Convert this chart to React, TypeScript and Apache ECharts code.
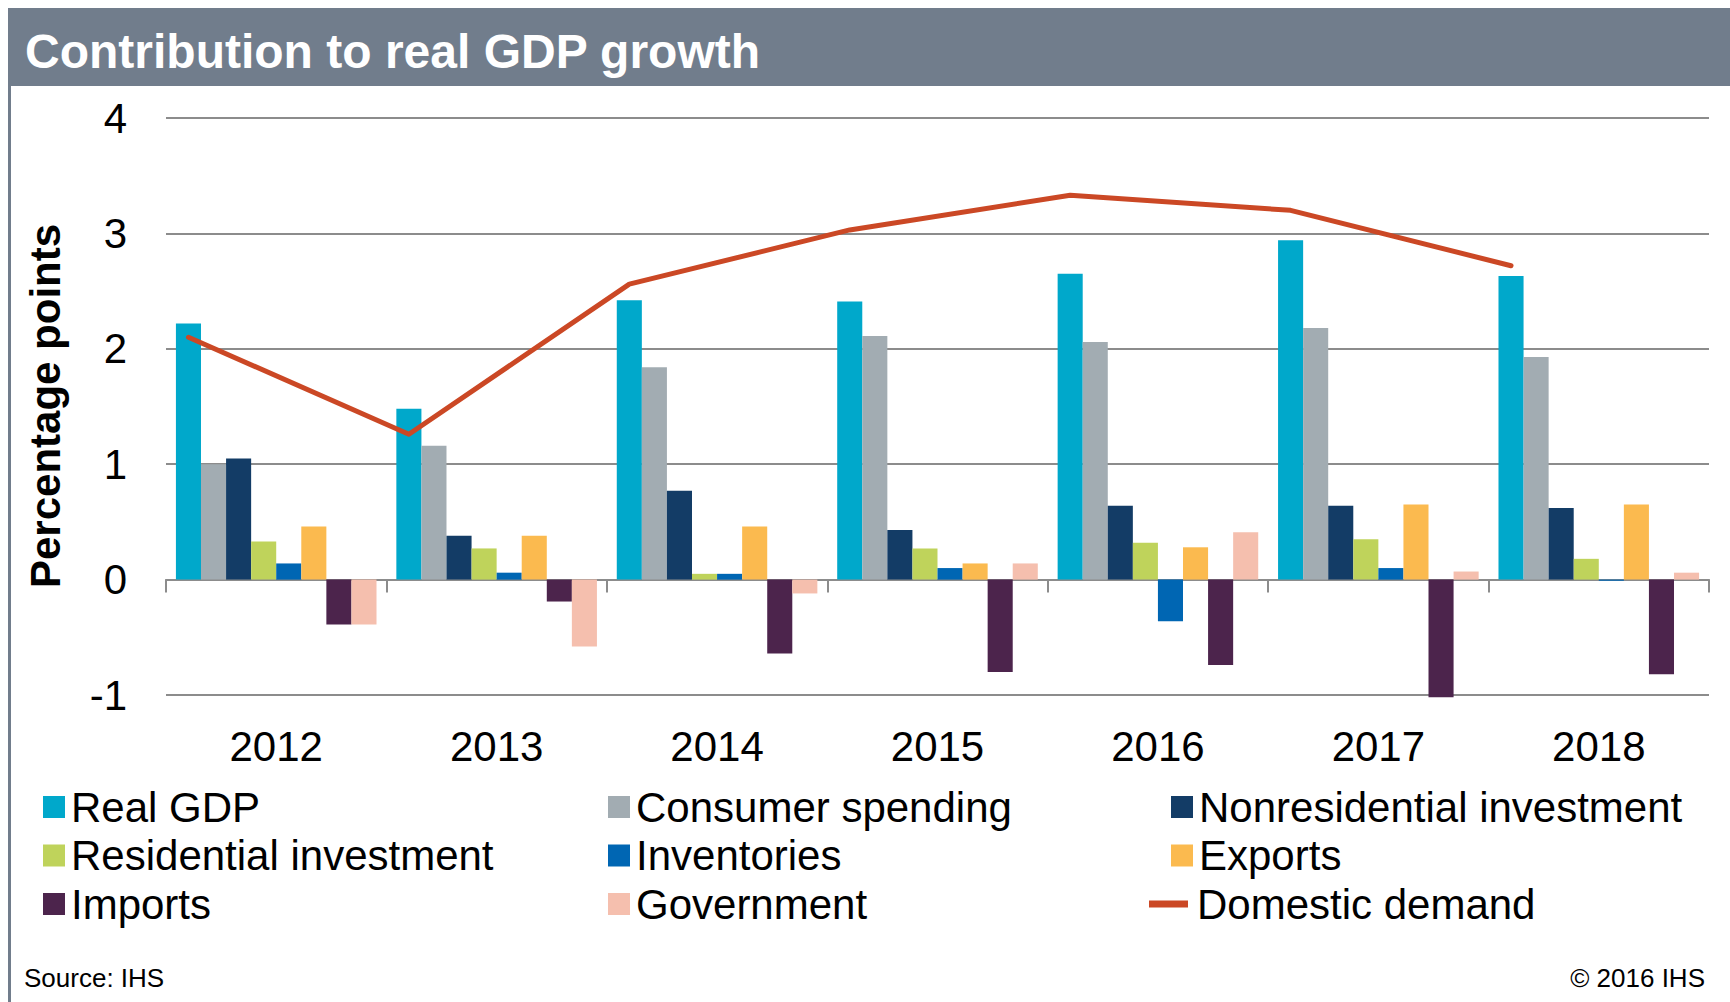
import React, { useEffect, useRef } from "react";
import * as echarts from "echarts";

const years = ["2012", "2013", "2014", "2015", "2016", "2017", "2018"];
const realGdp = [2.22, 1.48, 2.42, 2.41, 2.65, 2.94, 2.63];
const consumerSpending = [1.0, 1.16, 1.84, 2.11, 2.06, 2.18, 1.93];
const nonresInvestment = [1.05, 0.38, 0.77, 0.43, 0.64, 0.64, 0.62];
const resInvestment = [0.33, 0.27, 0.05, 0.27, 0.32, 0.35, 0.18];
const inventories = [0.14, 0.06, 0.05, 0.1, -0.36, 0.1, -0.01];
const exportsV = [0.46, 0.38, 0.46, 0.14, 0.28, 0.65, 0.65];
const importsV = [-0.39, -0.19, -0.64, -0.8, -0.74, -1.02, -0.82];
const government = [-0.39, -0.58, -0.12, 0.14, 0.41, 0.07, 0.06];
const domesticDemand = [2.1, 1.26, 2.56, 3.03, 3.33, 3.2, 2.72];
const yTicks = { min: -1, max: 4, interval: 1 };

const FONT = "Liberation Sans, Arial, sans-serif";

const barSeries = [
  { name: "Real GDP", data: realGdp, color: "#00A8CB" },
  { name: "Consumer spending", data: consumerSpending, color: "#A2ACB2" },
  { name: "Nonresidential investment", data: nonresInvestment, color: "#133C66" },
  { name: "Residential investment", data: resInvestment, color: "#BFD35B" },
  { name: "Inventories", data: inventories, color: "#0066B3" },
  { name: "Exports", data: exportsV, color: "#FBBA4F" },
  { name: "Imports", data: importsV, color: "#4C244C" },
  { name: "Government", data: government, color: "#F5BFAE" },
];
const lineColor = "#CB4825";

const CAT_GAP = 0.09;
// line points sit on the centre of the first bar of each cluster
const lineOffset = CAT_GAP / 2 + (1 - CAT_GAP) / barSeries.length / 2;

export default function App() {
  const ref = useRef<HTMLDivElement>(null);
  useEffect(() => {
    document.body.style.margin = "0";
    const chart = echarts.init(ref.current!, null, { renderer: "svg" });
    const legendText = {
      fontFamily: FONT,
      fontSize: 42,
      color: "#000",
      lineHeight: 48,
      padding: [0, 0, 0, 1],
    };
    const legendCommon = {
      orient: "vertical",
      icon: "rect",
      itemWidth: 22,
      itemHeight: 22,
      itemGap: 0.5,
      selectedMode: false,
      textStyle: legendText,
    };
    chart.setOption({
      animation: false,
      backgroundColor: "#fff",
      grid: { left: 166, right: 21, top: 118, bottom: 307 },
      xAxis: [
        {
          type: "category",
          data: years,
          position: "bottom",
          axisLine: { show: false, onZero: false },
          axisTick: { show: false },
          axisLabel: {
            fontFamily: FONT,
            fontSize: 42,
            color: "#000",
            margin: 30,
          },
        },
        {
          type: "value",
          position: "top",
          min: 0,
          max: years.length,
          interval: 1,
          axisLine: { show: true, onZero: true, lineStyle: { color: "#8C8C8C", width: 2 } },
          axisTick: { show: true, inside: true, length: 13, lineStyle: { color: "#8C8C8C", width: 2 } },
          axisLabel: { show: false },
          splitLine: { show: false },
        },
      ],
      yAxis: {
        type: "value",
        min: yTicks.min,
        max: yTicks.max,
        interval: yTicks.interval,
        axisLine: { show: false },
        axisTick: { show: false },
        axisLabel: {
          fontFamily: FONT,
          fontSize: 42,
          color: "#000",
          margin: 39,
        },
        splitLine: { lineStyle: { color: "#8C8C8C", width: 2 } },
      },
      legend: [
        { ...legendCommon, left: 38, top: 778, data: ["Real GDP", "Residential investment", "Imports"] },
        { ...legendCommon, left: 603, top: 778, data: ["Consumer spending", "Inventories", "Government"] },
        { ...legendCommon, left: 1166, top: 778, data: ["Nonresidential investment", "Exports"] },
        {
          ...legendCommon,
          left: 1144,
          top: 875,
          itemWidth: 39,
          itemHeight: 7,
          textStyle: { ...legendText, padding: [0, 0, 0, 4] },
          data: [{ name: "Domestic demand", icon: "rect" }],
        },
      ],
      series: [
        ...barSeries.map((s) => ({
          type: "bar",
          name: s.name,
          data: s.data,
          xAxisIndex: 0,
          barGap: "0%",
          barCategoryGap: CAT_GAP * 100 + "%",
          clip: false,
          itemStyle: { color: s.color },
        })),
        {
          type: "line",
          name: "Domestic demand",
          xAxisIndex: 1,
          data: domesticDemand.map((v, i) => [i + lineOffset, v]),
          symbol: "none",
          lineStyle: { color: lineColor, width: 5, cap: "round", join: "round" },
          itemStyle: { color: lineColor },
          z: 5,
        },
      ],
      graphic: [
        { type: "rect", shape: { x: 8, y: 8, width: 1722, height: 78 }, style: { fill: "#717D8C" } },
        { type: "rect", shape: { x: 8, y: 86, width: 3, height: 916 }, style: { fill: "#717D8C" } },
        {
          type: "text",
          x: 25,
          y: 51,
          style: {
            text: "Contribution to real GDP growth",
            fill: "#fff",
            font: "bold 48px " + FONT,
            textAlign: "left",
            textVerticalAlign: "middle",
          },
        },
        {
          type: "text",
          x: 45,
          y: 406,
          rotation: Math.PI / 2,
          style: {
            text: "Percentage points",
            fill: "#000",
            font: "bold 42px " + FONT,
            textAlign: "center",
            textVerticalAlign: "middle",
          },
        },
        {
          type: "text",
          x: 24,
          y: 978,
          style: {
            text: "Source: IHS",
            fill: "#000",
            font: "26px " + FONT,
            textAlign: "left",
            textVerticalAlign: "middle",
          },
        },
        {
          type: "text",
          x: 1705,
          y: 978,
          style: {
            text: "© 2016 IHS",
            fill: "#000",
            font: "26px " + FONT,
            textAlign: "right",
            textVerticalAlign: "middle",
          },
        },
      ],
    });
    return () => chart.dispose();
  }, []);
  return <div ref={ref} style={{ width: 1730, height: 1002 }} />;
}
